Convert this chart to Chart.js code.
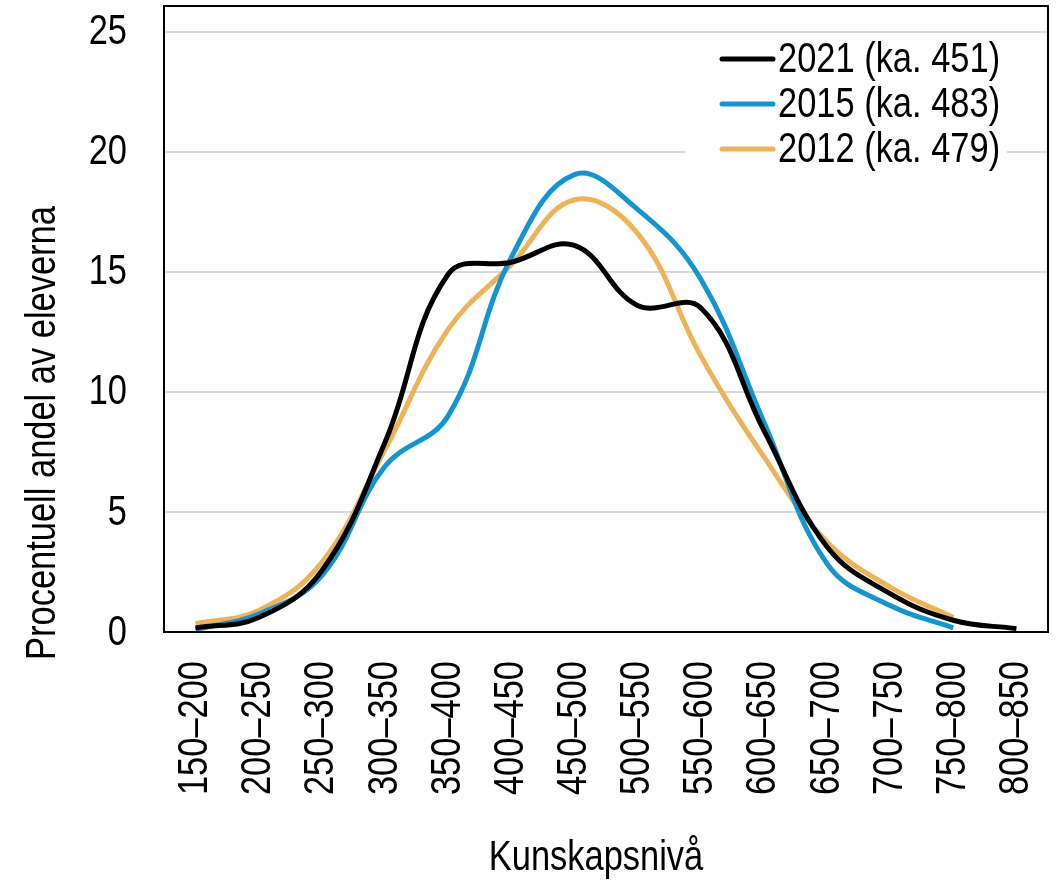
<!DOCTYPE html>
<html lang="sv">
<head>
<meta charset="UTF-8">
<title>Kunskapsnivå</title>
<script src="https://cdn.jsdelivr.net/npm/chart.js@4"></script>
<style>
  html, body { margin: 0; padding: 0; background: #fff; }
  canvas { display: block; }
</style>
</head>
<body>
<canvas id="chart" width="1059" height="884"></canvas>
<script>
// data
const categories = ['150–200', '200–250', '250–300', '300–350', '350–400', '400–450', '450–500',
                    '500–550', '550–600', '600–650', '650–700', '700–750', '750–800', '800–850'];
const labels2021 = '2021 (ka. 451)';
const labels2015 = '2015 (ka. 483)';
const labels2012 = '2012 (ka. 479)';
const values2021 = [0.17, 0.6, 2.55, 7.9, 14.9, 15.4, 16.1, 13.6, 13.5, 8.4, 3.55, 1.6, 0.49, 0.14];
const values2015 = [0.1, 0.75, 2.35, 6.9, 9.0, 15.6, 19.05, 17.6, 14.7, 8.75, 2.85, 1.1, 0.17, null];
const values2012 = [0.35, 0.9, 2.9, 7.6, 12.6, 15.3, 18.0, 16.6, 11.5, 7.3, 3.75, 1.87, 0.6, null];
const yTickMax = 25;

// no Arial Narrow here, so squeeze Liberation Sans to the same width
const FONT = '42px "Liberation Sans", Arial, sans-serif';
const SQUEEZE = 0.82;

function narrowText(ctx, text, x, y, align, baseline, angle) {
  ctx.save();
  ctx.translate(x, y);
  if (angle) ctx.rotate(angle);
  ctx.scale(SQUEEZE, 1);
  ctx.font = FONT;
  ctx.fillStyle = '#000';
  ctx.textAlign = align;
  ctx.textBaseline = baseline;
  ctx.fillText(text, 0, 0);
  ctx.restore();
}

// frame, tick labels, axis titles and legend drawn on the canvas
const extras = {
  id: 'extras',
  afterDraw(chart) {
    const ctx = chart.ctx;
    const a = chart.chartArea;
    const xs = chart.scales.x;
    const ys = chart.scales.y;
    ctx.save();
    ctx.strokeStyle = '#000';
    ctx.lineWidth = 2;
    ctx.strokeRect(a.left, a.top, a.right - a.left, a.bottom - a.top);

    ys.ticks.forEach(t => {
      narrowText(ctx, String(t.value), a.left - 37, ys.getPixelForValue(t.value) + 1, 'right', 'middle');
    });
    chart.data.labels.forEach((lab, i) => {
      narrowText(ctx, lab, xs.getPixelForTick(i), a.bottom + 29, 'right', 'middle', -Math.PI / 2);
    });

    narrowText(ctx, 'Kunskapsnivå', 596, 870, 'center', 'alphabetic');
    narrowText(ctx, 'Procentuell andel av eleverna', 55, 433, 'center', 'alphabetic', -Math.PI / 2);

    // legend
    ctx.fillStyle = '#fff';
    ctx.fillRect(685, 36, 322, 140);
    ctx.lineCap = 'round';
    ctx.lineWidth = 5;
    chart.data.datasets.forEach((ds, i) => {
      const y = 59 + i * 45;
      ctx.strokeStyle = ds.borderColor;
      ctx.beginPath();
      ctx.moveTo(722, y);
      ctx.lineTo(773, y);
      ctx.stroke();
      narrowText(ctx, ds.label, 778, y + 1, 'left', 'middle');
    });
    ctx.restore();
  }
};

new Chart(document.getElementById('chart'), {
  type: 'line',
  data: {
    labels: categories,
    datasets: [
      { label: labels2021, data: values2021, borderColor: '#000000' },
      { label: labels2015, data: values2015, borderColor: '#1495d2' },
      { label: labels2012, data: values2012, borderColor: '#eeb359' }
    ]
  },
  options: {
    responsive: false,
    animation: false,
    devicePixelRatio: 1,
    layout: { padding: { top: 6, right: 11, left: 0, bottom: 0 } },
    datasets: {
      line: { borderWidth: 5, tension: 0.4, pointRadius: 0, fill: false, clip: 8, spanGaps: false }
    },
    plugins: { legend: { display: false }, tooltip: { enabled: false } },
    scales: {
      x: {
        offset: true,
        grid: { display: false, drawTicks: false },
        border: { display: false },
        ticks: { display: false, autoSkip: false },
        afterFit(s) {
          s.height = 252;
          s.paddingLeft = 0; s.paddingRight = 0;
        }
      },
      y: {
        min: 0,
        max: 26.07,
        grid: { color: '#d9d9d9', lineWidth: 2, drawTicks: false },
        border: { display: false },
        ticks: { display: false, stepSize: 5, includeBounds: false },
        afterBuildTicks(s) {
          s.ticks = s.ticks.filter(t => t.value <= yTickMax);
        },
        afterFit(s) {
          s.width = 164;
          s.paddingTop = 0; s.paddingBottom = 0;
        }
      }
    }
  },
  plugins: [extras]
});
</script>
</body>
</html>
